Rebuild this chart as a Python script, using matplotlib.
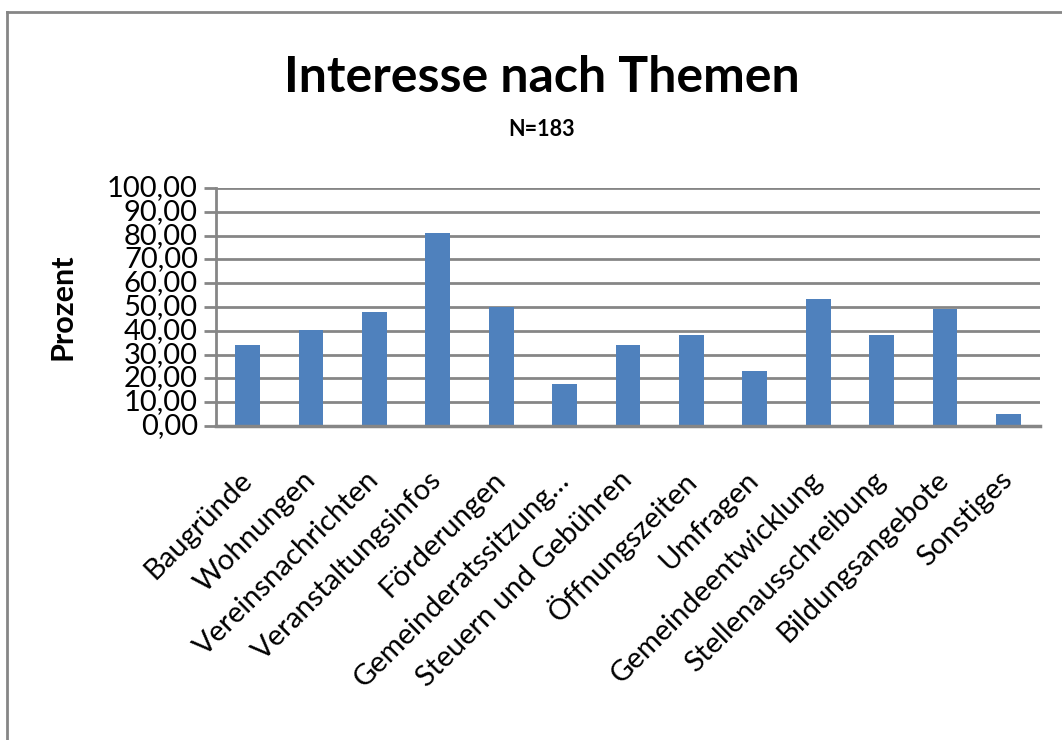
import matplotlib
matplotlib.use("Agg")
import matplotlib.pyplot as plt
from matplotlib.lines import Line2D
from matplotlib.ticker import FuncFormatter

categories = ["Baugründe", "Wohnungen", "Vereinsnachrichten", "Veranstaltungsinfos",
              "Förderungen", "Gemeinderatssitzung…", "Steuern und Gebühren",
              "Öffnungszeiten", "Umfragen", "Gemeindeentwicklung",
              "Stellenausschreibung", "Bildungsangebote", "Sonstiges"]
values = [34.1, 40.4, 48.0, 81.2, 50.2, 17.7, 34.1, 38.3, 23.1, 53.4, 38.3, 49.2, 5.0]
yticks = [0, 10, 20, 30, 40, 50, 60, 70, 80, 90, 100]

plt.rcParams['font.family'] = ['Lato', 'DejaVu Sans']

W, H = 1062, 740
fig = plt.figure(figsize=(W / 100, H / 100), dpi=100)
ax = fig.add_axes([216 / W, 1 - 426 / H, (1040 - 216) / W, (426 - 188) / H])

x = range(len(categories))
ax.bar(x, values, width=0.39, color="#4F81BD", zorder=3)
ax.set_xlim(-0.5, len(categories) - 0.5)
ax.set_ylim(0, 100)
ax.set_yticks(yticks)
ax.yaxis.set_major_formatter(FuncFormatter(lambda v, p: f"{v:.2f}".replace(".", ",")))
ax.grid(axis="y", color="#868686", linewidth=2.0, zorder=0)
ax.set_axisbelow(True)
for s in ["top", "right"]:
    ax.spines[s].set_visible(False)
ax.spines["left"].set_color("#868686")
ax.spines["left"].set_linewidth(2.0)
ax.spines["bottom"].set_color("#868686")
ax.spines["bottom"].set_linewidth(2.5)
ax.spines["bottom"].set_zorder(4)
ax.tick_params(axis="y", length=9, width=2, color="#868686", labelsize=21, pad=4)
ax.tick_params(axis="x", length=0, pad=36)
ax.set_xticks(list(x))
ax.set_xticklabels(categories, rotation=45, ha="right", va="center",
                   rotation_mode="anchor", fontsize=21)
for lab in ax.get_yticklabels():
    lab.set_va("center")

fig.text(63 / W, 1 - 307 / H, "Prozent", rotation=90, ha="center", va="center",
         fontsize=22, fontweight="bold")
fig.text(542 / W, 1 - 78 / H, "Interesse nach Themen", ha="center", va="center",
         fontsize=36, fontweight="bold")
fig.text(542 / W, 1 - 130 / H, "N=183", ha="center", va="center",
         fontsize=15.5, fontweight="bold")

# chart frame (top and left edges)
fig.add_artist(Line2D([7 / W, 1.0], [1 - 12 / H, 1 - 12 / H], color="#868686",
                      linewidth=2.0, transform=fig.transFigure))
fig.add_artist(Line2D([7 / W, 7 / W], [0, 1 - 12 / H], color="#868686",
                      linewidth=2.0, transform=fig.transFigure))

fig.savefig("out.png", dpi=100, facecolor="white")
